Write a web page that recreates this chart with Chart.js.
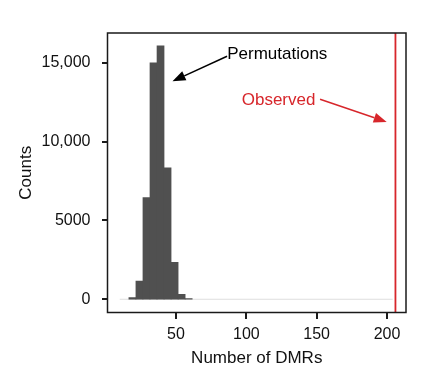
<!DOCTYPE html>
<html>
<head>
<meta charset="utf-8">
<script src="https://cdn.jsdelivr.net/npm/chart.js@4"></script>
<style>
  html, body { margin: 0; padding: 0; background: #fff; }
  #wrap { width: 440px; height: 373px; }
</style>
</head>
<body>
<div id="wrap"><canvas id="histChart"></canvas></div>
<script>
// histogram bins (centre of each 5-wide bin) and counts
const binCenters = [19, 24, 29, 34, 39, 44, 49, 54, 59];
const binCounts = [110, 1160, 6450, 15000, 16080, 8350, 2350, 320, 50];
const emptyRange = [10, 204];      // bins with zero permutations
const observedDMRs = 206;
const xTickValues = [50, 100, 150, 200];
const xTickLabels = ['50', '100', '150', '200'];
const yTickValues = [0, 5000, 10000, 15000];
const yTickLabels = ['0', '5000', '10,000', '15,000'];
const X_MIN = 1.3, X_MAX = 213.5, Y_MIN = -840, Y_MAX = 16900;

const FONT = '"Liberation Sans", Arial, Helvetica, sans-serif';
const RED = '#d7262b';

// labels with arrows, in data coordinates
const notes = [
    { text: 'Permutations', color: '#000', x: 86.4, y: 15520, from: [86.3, 15424], to: [47.5, 13839] },
    { text: 'Observed', color: RED, x: 96.7, y: 12654, from: [152.4, 12698], to: [199.8, 11259] }
];

const framePlugin = {
    id: 'frame',
    afterDraw(chart) {
        const { ctx, chartArea: a, scales } = chart;
        ctx.save();
        ctx.strokeStyle = '#1a1a1a';
        ctx.lineWidth = 1.5;
        ctx.strokeRect(a.left, a.top, a.right - a.left, a.bottom - a.top);

        // outward tick marks, filled so they land on whole pixels
        ctx.fillStyle = '#1a1a1a';
        xTickValues.forEach(v => {
            const px = Math.round(scales.x.getPixelForValue(v));
            ctx.fillRect(px - 1, Math.round(a.bottom), 2, 6);
        });
        yTickValues.forEach(v => {
            const py = Math.round(scales.y.getPixelForValue(v));
            ctx.fillRect(Math.round(a.left) - 6, py - 1, 6, 2);
        });

        ctx.font = '17px ' + FONT;
        ctx.textBaseline = 'middle';
        ctx.textAlign = 'left';
        notes.forEach(n => {
            ctx.fillStyle = n.color;
            ctx.fillText(n.text, scales.x.getPixelForValue(n.x), scales.y.getPixelForValue(n.y));
            const x1 = scales.x.getPixelForValue(n.from[0]), y1 = scales.y.getPixelForValue(n.from[1]);
            const x2 = scales.x.getPixelForValue(n.to[0]), y2 = scales.y.getPixelForValue(n.to[1]);
            const ang = Math.atan2(y2 - y1, x2 - x1);
            const hl = 13, hw = 5;
            const bx = x2 - hl * Math.cos(ang), by = y2 - hl * Math.sin(ang);
            ctx.strokeStyle = n.color;
            ctx.lineWidth = 1.5;
            ctx.beginPath();
            ctx.moveTo(x1, y1);
            ctx.lineTo(bx, by);
            ctx.stroke();
            ctx.beginPath();
            ctx.moveTo(x2, y2);
            ctx.lineTo(bx + hw * Math.sin(ang), by - hw * Math.cos(ang));
            ctx.lineTo(bx - hw * Math.sin(ang), by + hw * Math.cos(ang));
            ctx.closePath();
            ctx.fill();
        });
        ctx.restore();
    }
};

new Chart(document.getElementById('histChart'), {
    type: 'bar',
    data: {
        datasets: [
            {
                type: 'line',
                data: emptyRange.map(v => ({ x: v, y: 0 })),
                borderColor: '#dedede',
                borderWidth: 1,
                pointRadius: 0,
                order: 3
            },
            {
                type: 'bar',
                data: binCenters.map((c, i) => ({ x: c, y: binCounts[i] })),
                backgroundColor: '#505050',
                borderWidth: 0,
                barPercentage: 1,
                categoryPercentage: 1,
                order: 2
            },
            {
                type: 'line',
                data: [{ x: observedDMRs, y: Y_MIN }, { x: observedDMRs, y: Y_MAX }],
                borderColor: RED,
                borderWidth: 1.8,
                pointRadius: 0,
                order: 1
            }
        ]
    },
    options: {
        responsive: true,
        maintainAspectRatio: false,
        animation: false,
        layout: { padding: { top: 33, right: 34, left: 0, bottom: 0 } },
        plugins: { legend: { display: false }, tooltip: { enabled: false } },
        scales: {
            x: {
                type: 'linear',
                min: X_MIN,
                max: X_MAX,
                offset: false,
                afterBuildTicks: s => { s.ticks = xTickValues.map(v => ({ value: v })); },
                afterFit: s => { s.height = 60.5; },
                ticks: {
                    padding: 4,
                    color: '#111',
                    font: { family: FONT, size: 16 },
                    callback: v => xTickLabels[xTickValues.indexOf(v)]
                },
                grid: { display: false },
                border: { display: false },
                title: {
                    display: true,
                    text: 'Number of DMRs',
                    color: '#111',
                    font: { family: FONT, size: 17 },
                    padding: { top: 0, bottom: 4 }
                }
            },
            y: {
                min: Y_MIN,
                max: Y_MAX,
                afterBuildTicks: s => { s.ticks = yTickValues.map(v => ({ value: v })); },
                afterFit: s => { s.width = 107.5; },
                ticks: {
                    padding: 9,
                    color: '#111',
                    font: { family: FONT, size: 16 },
                    callback: v => yTickLabels[yTickValues.indexOf(v)]
                },
                grid: { display: false },
                border: { display: false },
                title: {
                    display: true,
                    text: 'Counts',
                    color: '#111',
                    font: { family: FONT, size: 17 },
                    padding: { top: 16, bottom: 0 }
                }
            }
        }
    },
    plugins: [framePlugin]
});
</script>
</body>
</html>
